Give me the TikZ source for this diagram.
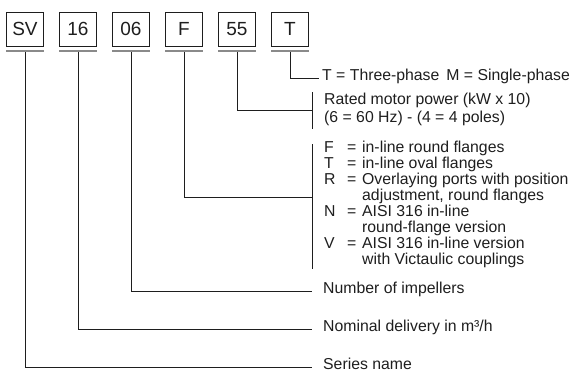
\documentclass[tikz,border=0pt]{standalone}
\usepackage{fontspec}
\setmainfont{Liberation Sans}
\definecolor{ink}{HTML}{1E1E1E}
\definecolor{uline}{HTML}{8A8A8A}
\begin{document}
\begin{tikzpicture}[x=1pt,y=-1pt,
  codebox/.style={draw=ink,line width=0.8pt,minimum width=37pt,minimum height=34pt,inner sep=0pt,font=\fontsize{19}{19}\selectfont,text=ink},
  lead/.style={draw=ink,line width=0.8pt},
  ul/.style={draw=uline,line width=2pt},
  lbl/.style={anchor=mid west,inner sep=0pt,font=\fontsize{15.8}{16}\selectfont,text=ink}]
\useasboundingbox (0,0) rectangle (574,372);
% code boxes
\node[codebox] (SV) at (25,29) {SV};
\node[codebox] (n16) at (78,29) {16};
\node[codebox] (n06) at (131,29) {06};
\node[codebox] (F) at (184,29) {F};
\node[codebox] (n55) at (237,29) {55};
\node[codebox] (T) at (290,29) {T};
% underlines
\foreach \b in {SV,n16,n06,F,n55,T}{
  \draw[ul] ([yshift=-5pt]\b.south west) -- ([yshift=-5pt]\b.south east);
}
% connector ends
\coordinate (eT) at (319,78);
\coordinate (e55) at (312,110);
\coordinate (eF) at (312,197);
\coordinate (e06) at (312,291);
\coordinate (e16) at (312,329);
\coordinate (eSV) at (312,367);
\draw[lead] ([yshift=-6pt]T.south) |- (eT);
\draw[lead] ([yshift=-6pt]n55.south) |- (e55);
\draw[lead] ([yshift=-6pt]F.south) |- (eF);
\draw[lead] ([yshift=-6pt]n06.south) |- (e06);
\draw[lead] ([yshift=-6pt]n16.south) |- (e16);
\draw[lead] ([yshift=-6pt]SV.south) |- (eSV);
% brackets
\coordinate (b55a) at (312,92);
\coordinate (b55b) at (312,129);
\coordinate (bFa) at (312,144);
\coordinate (bFb) at (312,269);
\draw[lead] (b55a) -- (b55b);
\draw[lead] (bFa) -- (bFb);
% labels
\node[lbl] (tT) at (322,78) {T = Three-phase\hspace{7pt}M = Single-phase};
\node[lbl] (t55a) at (324,102) {Rated motor power (kW x 10)};
\node[lbl] (t55b) at (324,120) {(6 = 60 Hz) - (4 = 4 poles)};
\foreach \i/\k/\t in {0/F/{in-line round flanges},1/T/{in-line oval flanges},2/R/{Overlaying ports with position},3//{adjustment, round flanges},4/N/{AISI 316 in-line},5//{round-flange version},6/V/{AISI 316 in-line version},7//{with Victaulic couplings}}{
  \node[lbl] (fk\i) at (324,150+16*\i) {\k};
  \ifx\k\empty\else\node[lbl] (fe\i) at (347,150+16*\i) {=};\fi
  \node[lbl] (ft\i) at (362,150+16*\i) {\t};
}
\node[lbl] (t06) at (323,291) {Number of impellers};
\node[lbl] (t16) at (323,329) {Nominal delivery in m³/h};
\node[lbl] (tSV) at (323,367) {Series name};
\end{tikzpicture}
\end{document}
